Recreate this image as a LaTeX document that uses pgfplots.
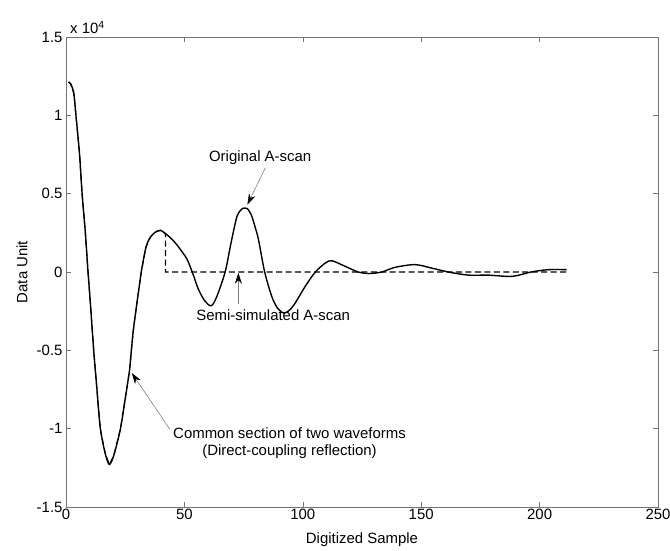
\documentclass[border=0pt]{standalone}
\usepackage{pgfplots}
\pgfplotsset{compat=1.18}
\usepackage{fontspec}
\setmainfont{Liberation Sans}
\usetikzlibrary{arrows.meta}
\definecolor{axgray}{gray}{0.45}
\pgfplotstableread{
x y
1.1 12130
2.0 12000
3.3 11400
4.2 10000
5.7 7560
6.8 5000
8.2 2450
9.3 0
10.3 -2000
11.7 -5000
13.1 -7550
14.5 -10000
16.6 -11600
18.3 -12280
20.2 -11700
23.0 -10000
25.1 -8000
26.8 -6300
27.6 -5000
28.6 -3500
30.7 -1170
31.9 100
33.8 1600
35.7 2240
37.8 2550
39.9 2660
42.0 2450
44.0 2200
46.2 1850
48.5 1400
51.1 820
53.3 0
56.0 -1130
58.8 -1880
61.4 -2150
63.7 -1560
67.2 0
69.4 1640
70.8 2650
72.2 3550
73.5 3900
74.8 4070
76.5 4050
77.5 3850
78.5 3550
79.8 2900
81.3 2060
83.9 0
86.9 -1560
89.3 -2300
91.9 -2620
94.3 -2450
96.8 -1980
101.0 -920
105.3 0
109.5 570
112.3 720
117.9 360
123.4 0
127.8 -100
133.4 0
139.0 300
147.4 470
154.4 250
161.4 0
170.0 -200
178.4 -200
188.4 -280
196.4 0
203.8 150
211.4 150
}\original
\pgfplotstableread{
x y
1.1 12130
2.0 12000
3.3 11400
4.2 10000
5.7 7560
6.8 5000
8.2 2450
9.3 0
10.3 -2000
11.7 -5000
13.1 -7550
14.5 -10000
16.6 -11600
18.3 -12280
20.2 -11700
23.0 -10000
25.1 -8000
26.8 -6300
27.6 -5000
28.6 -3500
30.7 -1170
31.9 100
33.8 1600
35.7 2240
37.8 2550
39.9 2660
42.0 2450
42.0 0
212.0 0
}\semisim
\begin{document}
\begin{tikzpicture}
\begin{axis}[
  name=ax,
  scale only axis,
  width=592bp, height=470bp,
  xmin=0, xmax=250, ymin=-15000, ymax=15000,
  xtick={0,50,100,150,200,250},
  xticklabels={0,50,100,150,200,250},
  ytick={-15000,-10000,-5000,0,5000,10000,15000},
  yticklabels={-1.5,-1,-0.5,0,0.5,1,1.5},
  scaled y ticks=false,
  tick align=inside,
  tick pos=both,
  major tick length=5bp,
  axis line style={axgray, line width=0.8pt},
  every tick/.style={axgray, line width=0.6pt},
  tick label style={font=\fontsize{15}{17}\selectfont, black},
  xticklabel style={yshift=1bp},
  xlabel={Digitized Sample},
  ylabel={Data Unit},
  every axis x label/.style={at={(axis description cs:0.5,-0.070)}, anchor=center, font=\fontsize{15}{17}\selectfont},
  every axis y label/.style={at={(axis description cs:-0.0743,0.5)}, anchor=center, rotate=90, font=\fontsize{15}{17}\selectfont},
  clip=false,
]
% Original A-scan (solid)
\addplot[black, line width=1.4pt, smooth, tension=0.5] table[x=x,y=y] {\original};
% Semi-simulated A-scan (dashed)
\addplot[black, line width=1.1pt, dash pattern=on 6pt off 3.5pt, sharp plot] table[x=x,y=y] {\semisim};
% annotations
\node[font=\fontsize{15}{17}\selectfont, anchor=center] at (axis cs:82,7300) {Original A-scan};
\draw[gray, line width=0.6pt, -{Stealth[length=11bp,width=7bp,black]}] (axis cs:84.2,6650) -- (axis cs:76.6,4300);
\node[font=\fontsize{15}{17}\selectfont, anchor=center] at (axis cs:87.5,-2750) {Semi-simulated A-scan};
\draw[gray, line width=0.6pt, -{Stealth[length=11bp,width=7bp,black]}] (axis cs:72.8,-2050) -- (axis cs:72.8,-50);
\node[font=\fontsize{15}{17}\selectfont, anchor=west, align=center] at (axis cs:43.8,-10950) {Common section of two waveforms\\(Direct-coupling reflection)};
\draw[gray, line width=0.6pt, -{Stealth[length=11bp,width=7bp,black]}] (axis cs:44.0,-10070) -- (axis cs:27.8,-6450);
\node[font=\fontsize{15}{17}\selectfont, anchor=south west, inner sep=1bp] at (axis description cs:0.005,1.005) {x 10\textsuperscript{4}};
\end{axis}
\pgfresetboundingbox
\path ([xshift=-66bp,yshift=-44bp]ax.south west) rectangle ([xshift=12bp,yshift=37bp]ax.north east);
\end{tikzpicture}
\end{document}
